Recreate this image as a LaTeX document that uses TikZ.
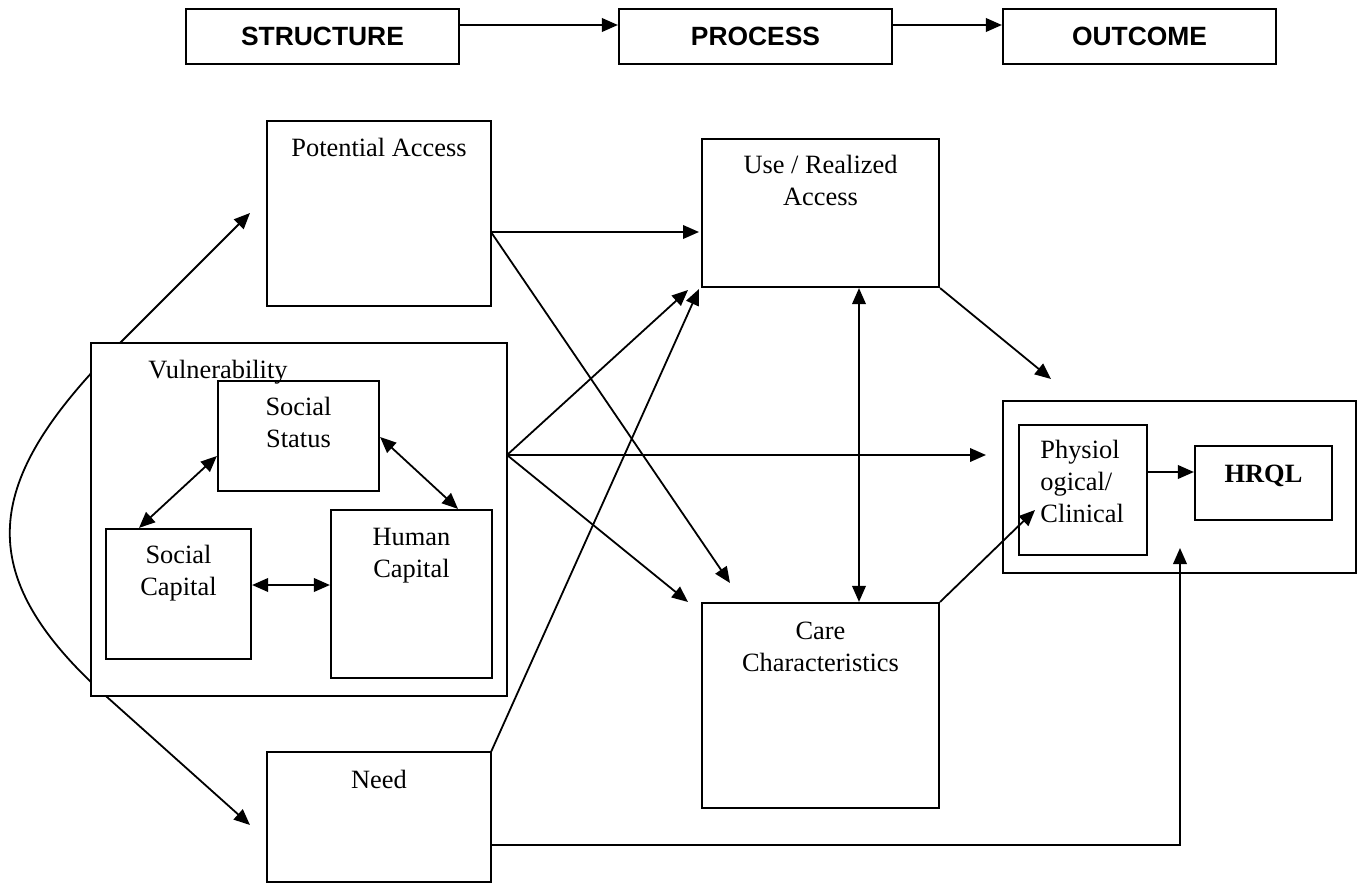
\documentclass[tikz,border=0pt]{standalone}
\usepackage{fontspec}
\setmainfont{Liberation Serif}
\newfontfamily\arialfont{Liberation Sans}
\usetikzlibrary{arrows.meta,fit,calc}
\begin{document}
\begin{tikzpicture}[x=0.5pt,y=-0.5pt,
  box/.style={draw,line width=1.1pt,inner sep=0pt,fill=white},
  lbl/.style={anchor=base,inner sep=0pt,font=\fontsize{13.2}{16}\selectfont},
  toplbl/.style={anchor=base,inner sep=0pt,font=\fontsize{13.2}{16}\selectfont\arialfont\bfseries},
  conn/.style={line width=0.9pt,-{Triangle[length=8pt,width=6.8pt]}},
  conntwo/.style={line width=0.9pt,{Triangle[length=8pt,width=6.8pt]}-{Triangle[length=8pt,width=6.8pt]}}]
\useasboundingbox (0,0) rectangle (1357,884);

% curve from Vulnerability (drawn under the box)
\coordinate (cup) at (120,343);
\coordinate (clo) at (107,697);
\coordinate (cpa) at (250,213);
\coordinate (cneed) at (250,825);
\draw[conntwo] (cpa) -- (cup) .. controls (-18,481) and (-31,573) .. (clo) -- (cneed);

% top row
\node[box, fit={(186,9) (459,64)}] (struct) {};
\node[box, fit={(619,9) (892,64)}] (proc) {};
\node[box, fit={(1003,9) (1276,64)}] (outc) {};
\node[toplbl] (tstruct) at (322.5,45) {STRUCTURE};
\node[toplbl] (tproc) at (755.5,45) {PROCESS};
\node[toplbl] (toutc) at (1139.5,45) {OUTCOME};

% main boxes
\node[box, fit={(267,121) (491,306)}] (pa) {};
\node[box, fit={(702,139) (939,287)}] (use) {};
\node[box, fit={(91,343) (507,696)}] (vul) {};
\node[box, fit={(218,381) (379,491)}] (ss) {};
\node[box, fit={(106,529) (251,659)}] (sc) {};
\node[box, fit={(331,510) (492,678)}] (hc) {};
\node[box, fit={(702,603) (939,808)}] (care) {};
\node[box, fit={(267,752) (491,882)}] (need) {};
\node[box, fit={(1003,401) (1356,573)}] (outer) {};
\node[box, fit={(1019,425) (1147,555)}] (phys) {};
\node[box, fit={(1195,446) (1332,520)}] (hrql) {};

% labels
\node[lbl] (tpa) at (379,156) {Potential Access};
\node[lbl] (tuse) at (820.5,173) {\begin{tabular}[t]{@{}c@{}}Use / Realized\\Access\end{tabular}};
\node[lbl,anchor=base west] (tvul) at (148,378) {Vulnerability};
\node[lbl] (tss) at (298.5,415) {\begin{tabular}[t]{@{}c@{}}Social\\Status\end{tabular}};
\node[lbl] (tsc) at (178.5,563) {\begin{tabular}[t]{@{}c@{}}Social\\Capital\end{tabular}};
\node[lbl] (thc) at (411.5,545) {\begin{tabular}[t]{@{}c@{}}Human\\Capital\end{tabular}};
\node[lbl] (tcare) at (820.5,639) {\begin{tabular}[t]{@{}c@{}}Care\\Characteristics\end{tabular}};
\node[lbl] (tneed) at (379,788) {Need};
\node[lbl,anchor=base west] (tphys) at (1040,458) {\begin{tabular}[t]{@{}l@{}}Physiol\\ogical/\\Clinical\end{tabular}};
\node[lbl,font=\fontsize{13.2}{16}\selectfont\bfseries] (thrql) at (1263.5,482) {HRQL};

% connector end points
\coordinate (paout) at (491,232);
\coordinate (vout) at (507,455);
\coordinate (needtop) at (491,752);
\coordinate (needout) at (491,845);
\coordinate (usein1) at (699,232);
\coordinate (usein2) at (688,290);
\coordinate (usein3) at (699,289);
\coordinate (carein1) at (730,583);
\coordinate (carein2) at (688,602);
\coordinate (outin1) at (986,455);
\coordinate (outin2) at (1051,379);
\coordinate (outin3) at (1180,548);
\coordinate (physin) at (1035,510);

% top arrows
\draw[conn] (struct.east |- 0,25) -- (proc.west |- 0,25);
\draw[conn] (proc.east |- 0,25) -- (outc.west |- 0,25);

% main arrows
\draw[conn] (paout) -- (usein1);
\draw[conn] (paout) -- (carein1);
\draw[conn] (vout) -- (usein2);
\draw[conn] (vout) -- (outin1);
\draw[conn] (vout) -- (carein2);
\draw[conn] (needtop) -- (usein3);
\draw[conn] (use.south east) -- (outin2);
\draw[conntwo] (use.south -| 859,0) -- (care.north -| 859,0);
\draw[conn] (care.north east) -- (physin);
\draw[conn] (phys.east |- 0,472) -- (hrql.west |- 0,472);
\draw[conn] (needout) -| (outin3);

% inside vulnerability
\draw[conntwo] (ss.west |- 0,456) -- (sc.north -| 139,0);
\draw[conntwo] (ss.east |- 0,437) -- (hc.north -| 458,0);
\draw[conntwo] (sc.east |- 0,585) -- (hc.west |- 0,585);
\end{tikzpicture}
\end{document}
